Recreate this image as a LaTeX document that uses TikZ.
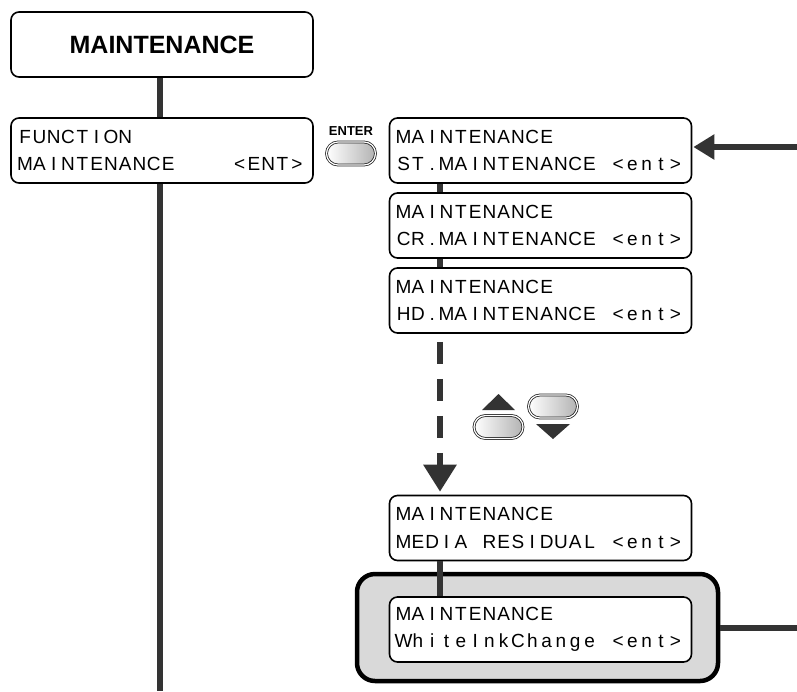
\documentclass[tikz,border=0pt]{standalone}
\usepackage{fontspec}
\setmainfont{Liberation Sans}
\usetikzlibrary{arrows.meta}

\newlength{\lcdcell}
\setlength{\lcdcell}{14.3pt}
\makeatletter
\def\lcdwalk#1{\ifx#1\relax\else\makebox[\lcdcell][c]{#1}\expandafter\lcdwalk\fi}
\newcommand{\lcd}[1]{\lcdwalk#1\relax}
\makeatother

\definecolor{linkgray}{HTML}{333333}
\definecolor{panelgray}{HTML}{D9D9D9}

\tikzset{
    lcdbox/.style={draw=black, line width=1.6pt, fill=white, rounded corners=8pt, minimum width=302pt, minimum height=65pt, inner xsep=0pt, inner ysep=0pt, text width=288pt, align=left, font=\fontsize{19}{27.5}\selectfont},
    titlebox/.style={draw=black, line width=1.6pt, fill=white, rounded corners=8pt, minimum width=302pt, minimum height=65pt, font=\fontsize{25}{29}\selectfont\bfseries},
    panel/.style={draw=black, line width=4.5pt, fill=panelgray, rounded corners=18pt, minimum width=361pt, minimum height=107pt},
    link/.style={line width=6pt, linkgray},
    keycap/.style={draw=black!85, line width=0.8pt, double=white, double distance=1.2pt, rounded corners=11.5pt, minimum width=49pt, minimum height=23pt, left color=white, right color=black!30},
    tri/.style={fill=linkgray, draw=none}
}

\begin{document}
\begin{tikzpicture}[x=1pt, y=-1pt]
    \useasboundingbox (0,0) rectangle (797,691);

    % free ends and line columns
    \coordinate (spine) at (160,691);
    \coordinate (drop) at (440,0);
    \coordinate (rightedge) at (797,0);

    % left column
    \node[titlebox] (title) at (162,44.5) {MAINTENANCE};
    \node[lcdbox] (function) at (162,150.5) {\lcd{FUNCTION}\\\lcd{MAINTENANCE~~~~<ENT>}};
    \draw[link] (spine |- title.south) -- (spine |- function.north);
    \draw[link] (spine |- function.south) -- (spine);

    % right column
    \node[lcdbox] (st) at (540.5,150.5) {\lcd{MAINTENANCE}\\\lcd{ST.MAINTENANCE~<ent>}};
    \node[lcdbox] (cr) at (540.5,225.5) {\lcd{MAINTENANCE}\\\lcd{CR.MAINTENANCE~<ent>}};
    \node[lcdbox] (hd) at (540.5,300.5) {\lcd{MAINTENANCE}\\\lcd{HD.MAINTENANCE~<ent>}};
    \node[lcdbox] (media) at (540.5,528) {\lcd{MAINTENANCE}\\\lcd{MEDIA~RESIDUAL~<ent>}};
    \node[panel] (whitepanel) at (537.5,627.5) {};
    \node[lcdbox] (white) at (540.5,629.5) {\lcd{MAINTENANCE}\\\lcd{WhiteInkChange~<ent>}};

    \draw[link] (drop |- st.south) -- (drop |- cr.north);
    \draw[link] (drop |- cr.south) -- (drop |- hd.north);
    \draw[link, dash pattern=on 22pt off 15pt, dash phase=-8pt, shorten >=3pt, -{Triangle[length=27pt, width=32pt]}] (drop |- hd.south) -- (drop |- media.north);
    \draw[link] (drop |- media.south) -- (drop |- white.north);

    % side lines
    \draw[link, shorten >=1pt, -{Triangle[length=21pt, width=24pt]}] (rightedge |- st.east) ++(0,-3.5) coordinate (stin) -- (st.east |- stin);
    \draw[link] (whitepanel.east) -- (rightedge |- whitepanel.east);

    % keys
    \node[font=\fontsize{13}{15}\selectfont\bfseries] (enterlabel) at (351,131) {ENTER};
    \node[keycap] (enterkey) at (351,153.5) {};
    \node[keycap] (upkey) at (498.5,427) {};
    \node[keycap] (downkey) at (553,406.5) {};
    \fill[tri] (498.5,394) -- (515,410) -- (482,410) -- cycle;
    \fill[tri] (536,424) -- (570,424) -- (553,439) -- cycle;
\end{tikzpicture}
\end{document}
